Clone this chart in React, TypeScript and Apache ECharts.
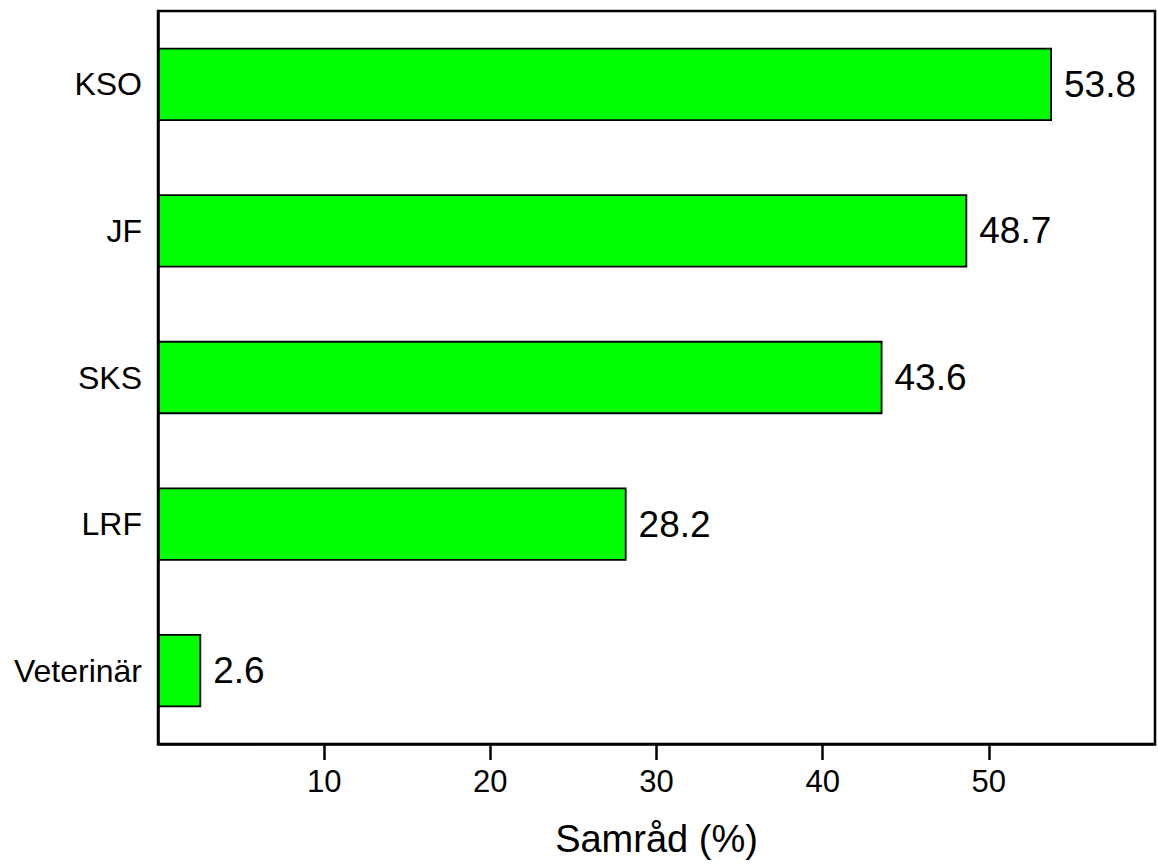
import React, { useEffect, useRef } from "react";
import * as echarts from "echarts";

const categories = ["Veterinär", "LRF", "SKS", "JF", "KSO"];
const values = [2.6, 28.2, 43.6, 48.7, 53.8];
const xTicks = [10, 20, 30, 40, 50];
const xTitle = "Samråd (%)";

export default function App() {
  const ref = useRef<HTMLDivElement>(null);
  useEffect(() => {
    if (!ref.current) return;
    const chart = echarts.init(ref.current, null, { renderer: "svg" });
    const font = "'Liberation Sans', Arial, Helvetica, sans-serif";
    chart.setOption({
      animation: false,
      textStyle: { fontFamily: font, color: "#000" },
      grid: {
        left: 158,
        right: 3,
        top: 11,
        bottom: 120,
        show: true,
        borderColor: "#000",
        borderWidth: 2.5,
        backgroundColor: "transparent",
      },
      xAxis: {
        type: "value",
        min: 0,
        max: 60,
        interval: 10,
        splitLine: { show: false },
        axisLine: { show: true, lineStyle: { color: "#000", width: 2.5 } },
        axisTick: {
          show: true,
          length: 16,
          customValues: xTicks,
          lineStyle: { color: "#000", width: 2.5 },
        },
        axisLabel: {
          customValues: xTicks,
          fontSize: 31,
          color: "#000",
          margin: 22,
          fontFamily: font,
        },
        name: xTitle,
        nameLocation: "middle",
        nameGap: 76,
        nameTextStyle: { fontSize: 38, color: "#000", fontFamily: font },
      },
      yAxis: {
        type: "category",
        data: categories,
        axisLine: { show: true, lineStyle: { color: "#000", width: 2.5 } },
        axisTick: { show: false },
        splitLine: { show: false },
        axisLabel: { fontSize: 32, color: "#000", margin: 16, fontFamily: font },
      },
      series: [
        {
          type: "bar",
          data: values,
          barWidth: "50%",
          itemStyle: { color: "#00FF00", borderColor: "#000", borderWidth: 1.8 },
          label: {
            show: true,
            position: "right",
            distance: 12,
            fontSize: 37,
            color: "#000",
            fontFamily: font,
            formatter: (p: any) => p.value.toFixed(1),
          },
        },
      ],
    });
    return () => chart.dispose();
  }, []);
  return <div ref={ref} style={{ width: 1158, height: 864, position: "absolute", left: 0, top: 0 }} />;
}
